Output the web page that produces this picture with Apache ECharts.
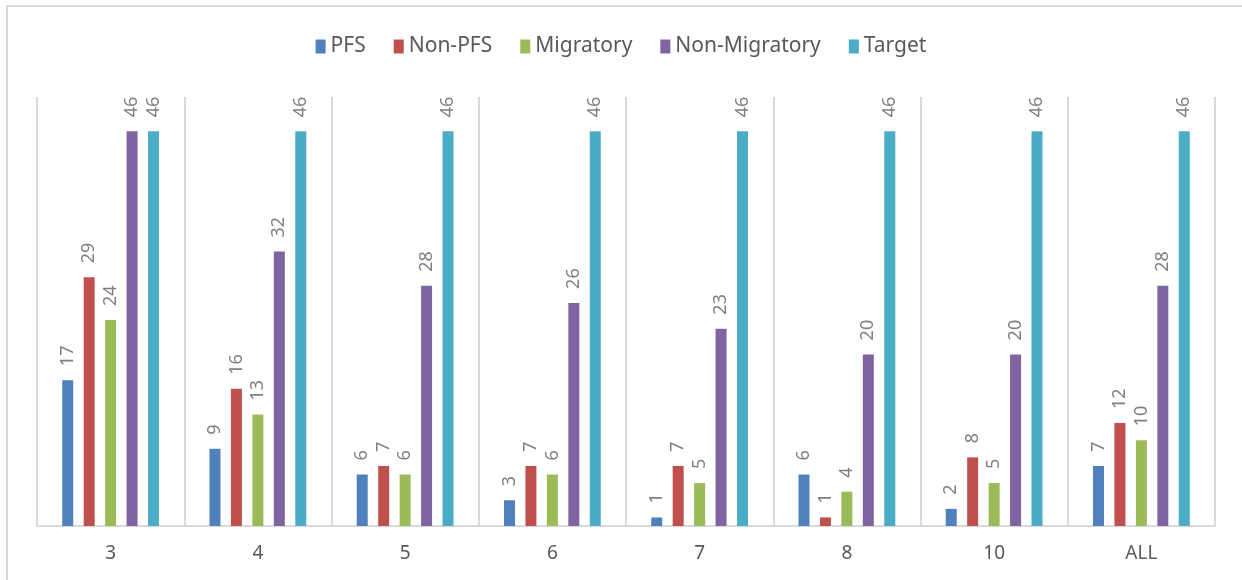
<!DOCTYPE html>
<html>
<head>
<meta charset="utf-8">
<script src="https://cdn.jsdelivr.net/npm/echarts@6/dist/echarts.min.js"></script>
<style>
  html, body { margin: 0; padding: 0; background: #fff; }
  #frame {
    position: absolute; left: 6px; top: 5px;
    width: 1240px; height: 580px;
    border-left: 2px solid #d9d9d9; border-top: 2px solid #d9d9d9;
    box-sizing: border-box;
  }
  #chart { position: absolute; left: 0; top: 0; width: 1242px; height: 580px; }
</style>
</head>
<body>
<div id="frame"></div>
<div id="chart"></div>
<script>
const categories = ['3', '4', '5', '6', '7', '8', '10', 'ALL']
const seriesNames = ['PFS', 'Non-PFS', 'Migratory', 'Non-Migratory', 'Target']
const pfs = [17, 9, 6, 3, 1, 6, 2, 7]
const nonPfs = [29, 16, 7, 7, 7, 1, 8, 12]
const migratory = [24, 13, 6, 6, 5, 4, 5, 10]
const nonMigratory = [46, 32, 28, 26, 23, 20, 20, 28]
const target = [46, 46, 46, 46, 46, 46, 46, 46]
const colors = ['#4f81bd', '#c0504d', '#9bbb59', '#8064a2', '#4bacc6']

const font = '"Noto Sans", "Open Sans", sans-serif'
const myChart = echarts.init(document.getElementById('chart'))

// 每个系列同样的样式
function makeSeries (name, data) {
  return {
    name: name,
    type: 'bar',
    data: data,
    barWidth: 11,
    barGap: '95%',
    label: {
      show: true,
      position: 'top',
      rotate: 90,
      align: 'left',
      verticalAlign: 'middle',
      distance: 14,
      color: '#808080',
      fontSize: 18,
      fontFamily: font
    }
  }
}

const option = {
  animation: false,
  color: colors,
  legend: {
    top: 31,
    left: 'center',
    itemWidth: 10,
    itemHeight: 14,
    itemGap: 28,
    icon: 'rect',
    textStyle: { color: '#595959', fontSize: 21, fontFamily: font },
    data: seriesNames
  },
  grid: { left: 37, right: 27, top: 97, bottom: 54 },
  xAxis: {
    type: 'category',
    data: categories,
    axisLine: { lineStyle: { color: '#d9d9d9', width: 2 } },
    axisTick: { show: false },
    axisLabel: { color: '#595959', fontSize: 19, fontFamily: font, margin: 18 },
    splitLine: { show: true, lineStyle: { color: '#d9d9d9', width: 2 } }
  },
  yAxis: {
    type: 'value',
    min: 0,
    max: 50,
    show: false
  },
  series: [
    makeSeries(seriesNames[0], pfs),
    makeSeries(seriesNames[1], nonPfs),
    makeSeries(seriesNames[2], migratory),
    makeSeries(seriesNames[3], nonMigratory),
    makeSeries(seriesNames[4], target)
  ]
}
myChart.setOption(option)
</script>
</body>
</html>
